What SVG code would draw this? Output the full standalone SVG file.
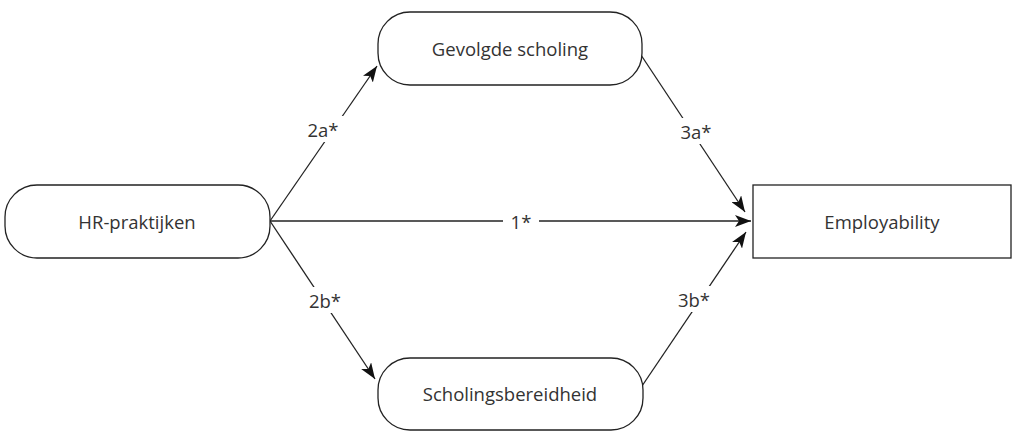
<svg xmlns="http://www.w3.org/2000/svg" width="1014" height="432" viewBox="0 0 1014 432">
<style>
.n{fill:#fff;stroke:#222;stroke-width:1.3}
.t{font-family:"Open Sans","Noto Sans",sans-serif;font-size:18.5px;fill:#333;text-anchor:middle;dominant-baseline:central}
.c{stroke:#222;stroke-width:1.3;fill:none}
.lb{fill:#fff;stroke:none}
</style>
<defs>
<marker id="a" viewBox="0 0 16 12" refX="16" refY="6" markerWidth="16" markerHeight="12" markerUnits="userSpaceOnUse" orient="auto">
<path d="M0,0 L16,6 L0,12 L4,6 Z" fill="#111"/>
</marker>
</defs>
<g id="connectors">
<line class="c" x1="270" y1="221" x2="377" y2="66" marker-end="url(#a)"/>
<line class="c" x1="270" y1="221" x2="751" y2="221" marker-end="url(#a)"/>
<line class="c" x1="270" y1="221" x2="375" y2="379" marker-end="url(#a)"/>
<line class="c" x1="641" y1="55" x2="745" y2="212" marker-end="url(#a)"/>
<line class="c" x1="642" y1="386" x2="746" y2="232" marker-end="url(#a)"/>
<rect class="lb" x="302" y="116" width="42" height="26"/>
<text class="t" x="323" y="129">2a*</text>
<rect class="lb" x="675" y="118" width="42" height="26"/>
<text class="t" x="696" y="131">3a*</text>
<rect class="lb" x="503" y="208" width="36" height="26"/>
<text class="t" x="521" y="221">1*</text>
<rect class="lb" x="304" y="287" width="42" height="26"/>
<text class="t" x="325" y="300">2b*</text>
<rect class="lb" x="673" y="286" width="42" height="26"/>
<text class="t" x="694" y="299">3b*</text>
</g>
<g id="hr">
<rect class="n" x="5" y="185" width="265" height="73" rx="32" ry="32"/>
<text class="t" x="137" y="221">HR-praktijken</text>
</g>
<g id="gevolgde">
<rect class="n" x="378" y="12" width="264" height="73" rx="32" ry="32"/>
<text class="t" x="510" y="48">Gevolgde scholing</text>
</g>
<g id="bereidheid">
<rect class="n" x="378" y="358" width="265" height="72" rx="32" ry="32"/>
<text class="t" x="510" y="393">Scholingsbereidheid</text>
</g>
<g id="employability">
<rect class="n" x="753" y="185" width="258" height="73"/>
<text class="t" x="882" y="221">Employability</text>
</g>
</svg>
